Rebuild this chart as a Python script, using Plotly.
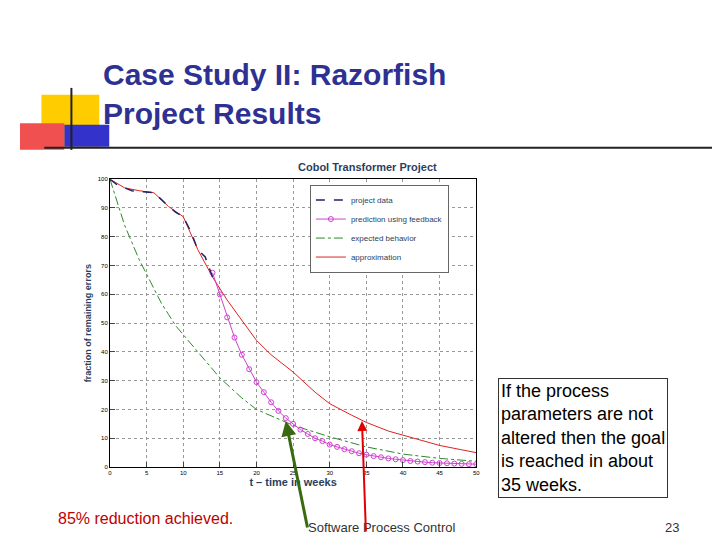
import plotly.graph_objects as go

# data
t_data = list(range(0, 15))
project_data = [100, 98, 97, 96, 95.7, 95.5, 95.3, 93, 90.5, 88.5, 87, 82, 75.5, 73, 66]

t_exp = [0, 1, 2, 3, 4, 5, 6, 7, 8, 9, 10, 12, 15, 18, 20, 25, 30, 35, 40, 45, 50]
expected = [100, 92, 84, 78, 72, 67, 62, 57, 53, 49, 46, 40, 31, 24, 20, 14.5, 10.5, 7, 4.5, 3, 2]

t_pred = list(range(14, 51))
prediction = [67.5, 60, 52, 45, 39, 34, 29.5, 26, 22.5, 19.5, 17, 15, 13, 11.5, 10, 9,
              7.8, 7, 6.2, 5.5, 4.8, 4.3, 3.8, 3.4, 3, 2.7, 2.4, 2.1, 1.9, 1.7, 1.5,
              1.4, 1.3, 1.2, 1.1, 1.0, 1.0]

t_apx = [0, 2, 4, 6, 8, 10, 12, 14, 16, 18, 20, 22, 25, 28, 30, 33, 35, 38, 40, 43, 45, 48, 50]
approx = [100, 97, 96, 95.3, 90.5, 87, 75.5, 66, 58, 51, 44, 39, 33, 26, 22, 18, 15.5, 12.5, 11, 9, 7.5, 6, 5]

fig = go.Figure()
fig.add_trace(go.Scatter(x=t_apx, y=approx, name="approximation", mode="lines",
                         line=dict(color="#d22", width=1)))
fig.add_trace(go.Scatter(x=t_exp, y=expected, name="expected behavior", mode="lines",
                         line=dict(color="#2a8a2a", width=1, dash="dashdot")))
fig.add_trace(go.Scatter(x=t_pred, y=prediction, name="prediction using feedback", mode="lines+markers",
                         line=dict(color="#d040d0", width=1),
                         marker=dict(symbol="circle-open", size=5, color="#d040d0")))
fig.add_trace(go.Scatter(x=t_data, y=project_data, name="project data", mode="lines",
                         line=dict(color="#22226a", width=1.5, dash="dash")))

ax = dict(showline=True, linecolor="black", mirror=True, showgrid=True,
          gridcolor="#999", griddash="dot", zeroline=False, ticks="inside",
          tickfont=dict(size=6, color="black"))
fig.update_layout(
    width=720, height=540, paper_bgcolor="white", plot_bgcolor="white",
    margin=dict(l=0, r=0, t=0, b=0), font=dict(family="Arial"),
    xaxis=dict(ax, range=[0, 50], dtick=5, domain=[0.14, 0.653],
               title=dict(text="<b>t – time in weeks</b>", font=dict(size=11), standoff=2)),
    yaxis=dict(ax, range=[0, 100], dtick=10, domain=[0.146, 0.685],
               title=dict(text="<b>fraction of remaining errors</b>", font=dict(size=9), standoff=4)),
    legend=dict(x=0.42, y=0.675, xanchor="left", yanchor="top", traceorder="reversed",
                bordercolor="#666", borderwidth=1, font=dict(size=8), bgcolor="white",
                tracegroupgap=0, itemwidth=30),
    showlegend=True,
)

anns = [
    dict(x=0.5, y=0.708, text="<b>Cobol Transformer Project</b>", font=dict(size=11)),
    dict(x=0.128, y=0.845, xanchor="left", text="<b>Case Study II: Razorfish<br>Project Results</b>",
         font=dict(size=30, color="#2E3192"), align="left"),
    dict(x=0.065, y=0.049, xanchor="left", text="85% reduction achieved.",
         font=dict(size=16, color="#c00000")),
    dict(x=0.415, y=0.033, xanchor="left", text="Software Process Control",
         font=dict(size=13, color="#333")),
    dict(x=0.94, y=0.033, xanchor="right", text="23", font=dict(size=13, color="#333")),
    dict(x=0.683, y=0.313, xanchor="left", yanchor="top", align="left",
         text="If the process<br>parameters are not<br>altered then the goal<br>is reached in about<br>35 weeks.",
         font=dict(size=18, color="black"), bordercolor="#333", borderwidth=1, borderpad=2),
]
for a in anns:
    a.setdefault("xref", "paper"); a.setdefault("yref", "paper"); a["showarrow"] = False
    if "xanchor" not in a:
        a["xanchor"] = "center"
    a.setdefault("yanchor", "middle")
    fig.add_annotation(**a)

# arrows from below the axis to the curves (tail offsets in pixels)
fig.add_annotation(x=24, y=16, ax=22, ay=108, xref="x", yref="y",
                   showarrow=True, arrowhead=2, arrowwidth=3, arrowcolor="#3a6a10", text="")
fig.add_annotation(x=34.4, y=16, ax=4, ay=112, xref="x", yref="y",
                   showarrow=True, arrowhead=2, arrowwidth=2, arrowcolor="#e00000", text="")

# decorative squares and rules
fig.add_shape(type="rect", xref="paper", yref="paper", x0=0.044, x1=0.125, y0=0.746, y1=0.843,
              fillcolor="#FFCC00", line_width=0, layer="below")
fig.add_shape(type="rect", xref="paper", yref="paper", x0=0.076, x1=0.139, y0=0.746, y1=0.787,
              fillcolor="#3333CC", line_width=0, layer="below")
fig.add_shape(type="rect", xref="paper", yref="paper", x0=0.014, x1=0.076, y0=0.74, y1=0.79,
              fillcolor="#F05050", line_width=0, layer="below")
fig.add_shape(type="line", xref="paper", yref="paper", x0=0.086, x1=0.086, y0=0.74, y1=0.856,
              line=dict(color="#222", width=2))
fig.add_shape(type="line", xref="paper", yref="paper", x0=0.048, x1=1.0, y0=0.744, y1=0.744,
              line=dict(color="#222", width=2))

fig.write_html("out.html")
